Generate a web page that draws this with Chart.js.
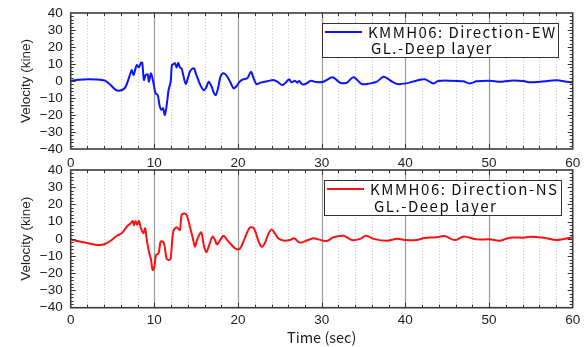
<!DOCTYPE html>
<html><head><meta charset="utf-8">
<script src="https://cdn.jsdelivr.net/npm/chart.js@4"></script>
<style>
html,body{margin:0;padding:0;background:#fff;}
#wrap{position:relative;width:585px;height:347px;overflow:hidden;}
#c1{position:absolute;left:0;top:0;}
#c2{position:absolute;left:0;top:160px;}
</style></head><body>
<div id="wrap">
<canvas id="c1" width="585" height="172"></canvas>
<canvas id="c2" width="585" height="187"></canvas>
</div>
<script>
// ---- data ----
const timeRange = [0, 60];
const velocityRange = [-40, 40];
const xTickStep = 10;
const yTickStep = 10;
const legendEW = ['KMMH06: Direction-EW', 'GL.-Deep layer'];
const legendNS = ['KMMH06: Direction-NS', 'GL.-Deep layer'];
const xTitle = 'Time (sec)';
const yTitle = 'Velocity (kine)';

// [time (sec), velocity (kine)]
const ewPoints = [[0,0],[1,0.8],[2.1,1],[3,0.9],[4.1,0.2],[4.7,-2],[5.3,-4.9],[5.8,-5.7],[6.5,-3.9],[7.1,3.9],[7.3,6.5],[7.5,3.5],[7.7,6.5],[7.9,9.4],[8.15,8],[8.4,10.8],[8.55,10.8],[8.75,0.6],[8.95,3.5],[9.2,3.9],[9.35,-0.4],[9.6,4.5],[9.9,-1.4],[10.15,-7.3],[10.4,-8.2],[10.65,-15],[10.85,-17],[11.05,-16],[11.25,-20],[11.45,-15],[11.7,-5.3],[11.95,-0.4],[12.1,9.4],[12.3,10],[12.45,10.5],[12.65,8],[12.85,10.8],[13.05,8],[13.25,7.4],[13.45,3.5],[13.75,-1.8],[14.05,2.5],[14.25,5.5],[14.45,6.9],[14.75,7.4],[14.95,4.5],[15.25,0.6],[15.5,-2.4],[15.85,-5.3],[16.15,-4.3],[16.5,-0.4],[16.85,-3.4],[17.1,-6.9],[17.35,-8.2],[17.65,-3.4],[17.9,2.5],[18.25,4.5],[18.65,3],[19.05,-0.4],[19.45,-4.3],[19.75,-3.4],[20.2,-0.4],[20.6,1],[21.1,1.6],[21.55,5.5],[21.8,2.5],[22.2,-1.8],[22.8,-0.8],[23.6,0],[24.2,0.6],[24.7,-0.4],[25.3,-2.4],[25.8,-0.4],[26.1,1],[26.4,-0.8],[26.8,0.2],[27.1,-1],[27.3,0],[27.7,-2],[28.2,-1.4],[28.7,0.2],[29.3,-0.6],[30.2,-0.4],[31.3,2.2],[32.2,-1],[33,-1],[33.8,2.2],[34.8,-1.8],[35.8,-1.4],[36.6,-0.4],[37.4,2.5],[38.3,0],[39,-1.8],[40.1,-1.4],[41.3,0.2],[42.3,1],[42.9,-0.4],[43.4,-1.4],[43.9,0],[45.3,0.2],[46.9,-0.2],[47.7,-1.4],[48.5,-0.2],[50.1,0.2],[51.3,-0.4],[52.5,0.2],[54.1,0],[54.9,-0.8],[56.1,-0.4],[58.1,0.4],[59.3,-0.4],[60,-0.8]];

const nsPoints = [[0,0],[0.3,-0.7],[2.1,-2.6],[3.3,-3.6],[4.1,-3],[4.9,-0.7],[5.5,1.8],[6.1,3.2],[6.55,6.1],[6.9,8],[7.15,9],[7.4,10.4],[7.55,8],[7.75,10.4],[7.95,8],[8.15,10.4],[8.4,6.1],[8.7,3.2],[8.9,6.1],[9.1,-0.7],[9.35,-7.5],[9.6,-12.3],[9.8,-18.1],[10,-16.2],[10.2,-9.4],[10.5,-8.4],[10.75,-1.6],[11,-1.6],[11.2,-3.6],[11.45,-11.3],[11.7,-12.3],[11.95,-11.3],[12.25,4.2],[12.65,6.7],[13.05,5.1],[13.25,13.9],[13.55,14.8],[13.85,13.9],[14.25,7],[14.6,0.3],[14.85,-4.5],[15.1,-0.7],[15.6,3.8],[15.9,-3.6],[16.2,-7.8],[16.55,-3.6],[16.95,1.3],[17.25,-0.7],[17.5,-3.2],[18.25,1.8],[18.7,-0.7],[19.05,-2.6],[19.65,-5.5],[20.2,-5.9],[20.8,0.3],[21.4,6.5],[21.9,6.1],[22.4,-0.7],[22.8,-4.5],[23.2,-2.6],[23.6,2.6],[24,5.5],[24.4,3.2],[24.8,0.3],[25.4,-1],[26.2,-0.7],[26.7,0.3],[27.4,-2.2],[28.2,-1],[29,0.3],[29.6,-0.3],[30.6,-1.3],[31.4,0.9],[32.6,1.8],[33.6,-0.7],[34.6,0],[35.3,1.8],[36.2,0],[37.8,-1.1],[39,0],[40.1,-0.7],[41.3,-0.7],[42.3,0.5],[43.7,0.9],[44.7,1.6],[45.9,-0.7],[47,1.4],[48.5,-0.3],[50.1,-0.3],[51.3,-1.1],[52.5,0.7],[54.1,0.7],[54.9,1.2],[56.5,0.7],[58.1,-0.7],[60,0.9]];

// ---- drawing helpers ----
const FONT = '"Liberation Sans", Arial, Helvetica, sans-serif';
const JFONT = '"Noto Sans CJK JP", "Noto Sans", sans-serif';
const INK = '#1c1c1c';

const framePlugin = {
  id: 'frameGrid',
  beforeDatasetsDraw(chart) {
    const {ctx, chartArea: a, scales: {x, y}} = chart;
    ctx.save();
    for (let t = timeRange[0] + 2; t < timeRange[1]; t += 2) {
      const px = Math.round(x.getPixelForValue(t)) + 0.5;
      ctx.beginPath();
      if (t % 10 === 0) { ctx.setLineDash([]); ctx.strokeStyle = '#9a9a9a'; ctx.lineWidth = 1.2; }
      else { ctx.setLineDash([1, 2]); ctx.strokeStyle = '#c8c8c8'; ctx.lineWidth = 1; }
      ctx.moveTo(px, a.top); ctx.lineTo(px, a.bottom); ctx.stroke();
    }
    ctx.restore();
  },
  afterDatasetsDraw(chart) {
    const {ctx, chartArea: a, scales: {x, y}} = chart;
    ctx.save();
    ctx.strokeStyle = '#333';
    ctx.lineWidth = 1;
    for (let v = velocityRange[0] + 2; v < velocityRange[1]; v += 2) {
      const py = Math.round(y.getPixelForValue(v)) + 0.5;
      const len = (v % 10 === 0) ? 5 : 3;
      ctx.beginPath();
      ctx.moveTo(a.left, py); ctx.lineTo(a.left + len, py);
      ctx.moveTo(a.right, py); ctx.lineTo(a.right - len, py);
      ctx.stroke();
    }
    for (let t = timeRange[0] + 2; t < timeRange[1]; t += 2) {
      const px = Math.round(x.getPixelForValue(t)) + 0.5;
      const len = (t % 10 === 0) ? 5 : 3;
      ctx.beginPath();
      ctx.moveTo(px, a.top); ctx.lineTo(px, a.top + len);
      ctx.moveTo(px, a.bottom); ctx.lineTo(px, a.bottom - len);
      ctx.stroke();
    }
    ctx.lineWidth = 1.6;
    ctx.strokeStyle = '#3a3a3a';
    ctx.strokeRect(a.left, a.top, a.right - a.left, a.bottom - a.top);
    ctx.restore();
  },
  afterDraw(chart) {
    const L = chart.options.plugins.boxLegend;
    if (!L) return;
    const ctx = chart.ctx;
    ctx.save();
    ctx.fillStyle = '#fff';
    ctx.fillRect(L.x, L.y, L.w, L.h);
    ctx.strokeStyle = '#333';
    ctx.lineWidth = 1;
    ctx.strokeRect(L.x + 0.5, L.y + 0.5, L.w, L.h);
    ctx.strokeStyle = L.color;
    ctx.lineWidth = 2;
    ctx.beginPath();
    ctx.moveTo(L.x + 3, L.y + L.line1); ctx.lineTo(L.x + 40, L.y + L.line1);
    ctx.stroke();
    ctx.fillStyle = '#111';
    ctx.textBaseline = 'middle';
    ctx.font = '15px ' + JFONT;
    const s0 = L.lines[0];
    const w = ctx.measureText(s0).width;
    const sp = Math.max(0, (L.textW - w) / (s0.length - 1));
    ctx.letterSpacing = sp.toFixed(2) + 'px';
    ctx.fillText(L.lines[0], L.x + L.tx1, L.y + L.line1);
    ctx.fillText(L.lines[1], L.x + L.tx2, L.y + L.line2);
    ctx.restore();
  }
};

function makeChart(id, pts, color, legend, cfg) {
  return new Chart(document.getElementById(id), {
    type: 'line',
    data: {
      datasets: [{
        data: pts.map(p => ({x: p[0], y: p[1]})),
        borderColor: color,
        borderWidth: 2,
        pointRadius: 0,
        tension: 0.3,
        fill: false
      }]
    },
    options: {
      responsive: false,
      animation: false,
      events: [],
      layout: {padding: {left: 0, right: 12.3, top: cfg.top, bottom: 0}},
      plugins: {
        legend: {display: false},
        tooltip: {enabled: false},
        boxLegend: Object.assign({color: color, lines: legend}, cfg.legend)
      },
      scales: {
        x: {
          type: 'linear', min: timeRange[0], max: timeRange[1],
          grid: {display: false, drawTicks: false}, border: {display: false},
          ticks: {stepSize: xTickStep, color: INK, padding: cfg.xPad, maxRotation: 0, autoSkip: false,
                  font: {family: FONT, size: 13.5}},
          title: {display: cfg.xTitle, text: xTitle, color: INK,
                  font: {family: JFONT, size: 14.5}, padding: {top: 0, bottom: 1}},
          afterFit: s => { s.height = cfg.xh; s.paddingLeft = 0; s.paddingRight = 0; }
        },
        y: {
          min: velocityRange[0], max: velocityRange[1],
          grid: {display: false, drawTicks: false}, border: {display: false},
          ticks: {stepSize: yTickStep, color: INK, padding: 8, autoSkip: false,
                  font: {family: FONT, size: 13.5},
                  callback: v => String(v).replace('-', '\u2212')},
          title: {display: true, text: yTitle, color: INK,
                  font: {family: FONT, size: 13.5}, padding: {top: 18, bottom: 0}},
          afterFit: s => { s.width = 70.7; s.paddingTop = 0; s.paddingBottom = 0; }
        }
      }
    },
    plugins: [framePlugin]
  });
}

makeChart('c1', ewPoints, '#0a14ff', legendEW, {
  top: 13, xh: 23, xPad: 6, xTitle: false,
  legend: {x: 322, y: 23, w: 236, h: 34, line1: 9, line2: 25, tx1: 46, tx2: 49, textW: 187}
});
makeChart('c2', nsPoints, '#ff1010', legendNS, {
  top: 10, xh: 39.3, xPad: 4.5, xTitle: true,
  legend: {x: 324, y: 20, w: 237, h: 35, line1: 9, line2: 26, tx1: 46, tx2: 50, textW: 187}
});
</script>
</body></html>
